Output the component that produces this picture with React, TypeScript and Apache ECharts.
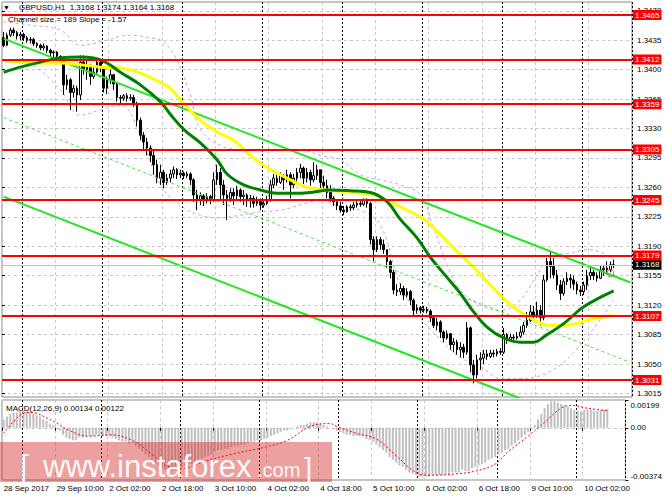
import React, { useEffect, useRef } from "react";
import * as echarts from "echarts";

const FONT = "Liberation Sans, Arial, sans-serif";

// ---- time axis ----
const tradingDays = ["28 Sep", "29 Sep", "2 Oct", "3 Oct", "4 Oct", "5 Oct", "6 Oct", "9 Oct", "10 Oct"];
const tickLabels = ["28 Sep 2017", "29 Sep 10:00", "2 Oct 02:00", "2 Oct 18:00", "3 Oct 10:00", "4 Oct 02:00", "4 Oct 18:00", "5 Oct 10:00", "6 Oct 02:00", "6 Oct 18:00", "9 Oct 10:00", "10 Oct 02:00"];
const firstHour = 18;
const slotCount = 189; // visible bar slots incl. right shift

// ---- price ticks ----
const priceTickMin = 1.3015;
const priceTickMax = 1.347;
const priceTickStep = 0.0035;
const priceMin = 1.30108;
const priceMax = 1.34805;

// ---- candles (H1) ----
const firstOpen = 1.3438;
const closes = [
  1.3429, 1.3441, 1.3447, 1.3444, 1.344, 1.3442, 1.3438, 1.3435, 1.3436, 1.3431,
  1.3429, 1.3426, 1.3428, 1.3423, 1.342, 1.3421, 1.3416, 1.3411, 1.3382, 1.3388,
  1.3373, 1.3378, 1.337, 1.3409, 1.34, 1.3404, 1.3392, 1.3397, 1.3409, 1.3402,
  1.3378, 1.3388, 1.3394, 1.3383, 1.3367, 1.3366, 1.3369, 1.3366, 1.3367, 1.3359,
  1.334, 1.3322, 1.3314, 1.3307, 1.3298, 1.3287, 1.3271, 1.3278, 1.3266, 1.3271,
  1.3276, 1.3281, 1.3275, 1.3277, 1.3274, 1.3276, 1.3269, 1.3251, 1.3245, 1.325,
  1.3244, 1.3249, 1.3245, 1.3269, 1.3278, 1.3263, 1.3251, 1.3247, 1.3254, 1.325,
  1.3257, 1.3249, 1.3251, 1.3245, 1.3247, 1.3241, 1.3244, 1.3239, 1.3241, 1.3245,
  1.3263, 1.3271, 1.3266, 1.3274, 1.3269, 1.3275, 1.3263, 1.3271, 1.3278, 1.3283,
  1.3271, 1.3278, 1.3269, 1.3274, 1.3281, 1.3266, 1.3262, 1.3254, 1.3247, 1.3243,
  1.3238, 1.3233, 1.3231, 1.3237, 1.3236, 1.3239, 1.3241, 1.324, 1.3245, 1.3241,
  1.3198, 1.3186, 1.3198, 1.3192, 1.3186, 1.3172, 1.3159, 1.3138, 1.3136, 1.314,
  1.3132, 1.3136, 1.3126, 1.3114, 1.3117, 1.3114, 1.3115, 1.3113, 1.3105, 1.3096,
  1.31, 1.3088, 1.3081, 1.3086, 1.3073, 1.3076, 1.3067, 1.307, 1.3064, 1.3093,
  1.3049, 1.3037, 1.3055, 1.3057, 1.3062, 1.3059, 1.3063, 1.3062, 1.3065, 1.3064,
  1.3085, 1.3079, 1.3082, 1.3081, 1.3083, 1.3088, 1.3096, 1.3102, 1.3112, 1.3107,
  1.3114, 1.3105, 1.315, 1.3172, 1.3166, 1.3156, 1.3144, 1.3134, 1.3148, 1.3152,
  1.315, 1.3145, 1.3138, 1.3136, 1.3144, 1.3155, 1.3159, 1.3155, 1.3152, 1.3162,
  1.3164, 1.3162, 1.3168, 1.3168,
];
const highs = [
  1.3445, 1.3444, 1.345, 1.345, 1.3446, 1.3445, 1.3444, 1.344, 1.3439, 1.3438,
  1.3433, 1.3431, 1.3431, 1.3429, 1.3425, 1.3423, 1.3422, 1.3417, 1.3414, 1.3394,
  1.339, 1.3382, 1.3381, 1.3417, 1.3417, 1.3411, 1.3407, 1.3404, 1.3414, 1.3411,
  1.3404, 1.3392, 1.34, 1.3395, 1.3385, 1.337, 1.3371, 1.3372, 1.3371, 1.337,
  1.3362, 1.3343, 1.3326, 1.3319, 1.331, 1.3305, 1.3293, 1.3287, 1.3281, 1.3276,
  1.3281, 1.3285, 1.3283, 1.3281, 1.3279, 1.3279, 1.3278, 1.3271, 1.3257, 1.3254,
  1.3252, 1.3253, 1.3251, 1.3278, 1.3287, 1.3283, 1.3269, 1.3257, 1.3259, 1.3259,
  1.3262, 1.3259, 1.3257, 1.3253, 1.3251, 1.325, 1.3249, 1.3247, 1.3246, 1.325,
  1.3269, 1.3276, 1.3275, 1.3278, 1.3276, 1.3281, 1.3278, 1.3276, 1.3283, 1.3288,
  1.3285, 1.3283, 1.3281, 1.329, 1.3287, 1.3281, 1.3274, 1.3269, 1.3263, 1.325,
  1.3245, 1.3243, 1.3238, 1.3239, 1.324, 1.3243, 1.3245, 1.3245, 1.3247, 1.3247,
  1.3243, 1.3202, 1.3202, 1.3201, 1.3198, 1.3186, 1.3174, 1.3162, 1.3145, 1.3146,
  1.3143, 1.314, 1.3138, 1.3128, 1.3121, 1.3119, 1.3119, 1.3118, 1.3115, 1.3108,
  1.3105, 1.3102, 1.309, 1.309, 1.3087, 1.3081, 1.3079, 1.3076, 1.3074, 1.31,
  1.3095, 1.3055, 1.3061, 1.3064, 1.3067, 1.3067, 1.3067, 1.3067, 1.3068, 1.3069,
  1.3093, 1.3087, 1.3086, 1.3085, 1.3088, 1.3095, 1.31, 1.3112, 1.312, 1.3119,
  1.3124, 1.312, 1.3156, 1.3176, 1.3183, 1.3176, 1.3162, 1.315, 1.3152, 1.3159,
  1.3157, 1.3155, 1.3148, 1.3143, 1.3148, 1.3162, 1.3167, 1.3162, 1.3159, 1.3167,
  1.3168, 1.3172, 1.3172, 1.3174,
];
const lows = [
  1.3427, 1.3428, 1.3439, 1.344, 1.3436, 1.3435, 1.3434, 1.3432, 1.3431, 1.3428,
  1.3426, 1.3423, 1.3423, 1.342, 1.3416, 1.3415, 1.3411, 1.3408, 1.337, 1.3376,
  1.3352, 1.3367, 1.335, 1.3364, 1.3394, 1.3388, 1.3382, 1.3389, 1.3395, 1.3397,
  1.3373, 1.3371, 1.3383, 1.3376, 1.3362, 1.3359, 1.3363, 1.3362, 1.3363, 1.3356,
  1.3333, 1.3316, 1.3305, 1.3298, 1.329, 1.3275, 1.3265, 1.3263, 1.3259, 1.3263,
  1.3266, 1.3271, 1.327, 1.3271, 1.327, 1.3271, 1.3263, 1.3243, 1.3233, 1.3239,
  1.3238, 1.3241, 1.324, 1.3243, 1.3263, 1.3245, 1.3239, 1.3221, 1.3243, 1.3239,
  1.3245, 1.3243, 1.3239, 1.3237, 1.3236, 1.3236, 1.3238, 1.3233, 1.3236, 1.3239,
  1.3243, 1.3259, 1.3262, 1.3264, 1.3257, 1.3266, 1.3247, 1.3259, 1.3266, 1.3271,
  1.3264, 1.3266, 1.3262, 1.3266, 1.3269, 1.3259, 1.3257, 1.3247, 1.3243, 1.3238,
  1.3233, 1.323, 1.3227, 1.323, 1.3232, 1.3233, 1.3236, 1.3237, 1.3238, 1.3236,
  1.3192, 1.3172, 1.3183, 1.3186, 1.3181, 1.3164, 1.3152, 1.3133, 1.3131, 1.3132,
  1.3126, 1.3129, 1.312, 1.3108, 1.311, 1.311, 1.3111, 1.311, 1.31, 1.3093,
  1.309, 1.3081, 1.3076, 1.3079, 1.3067, 1.3064, 1.3061, 1.3058, 1.3057, 1.3061,
  1.304, 1.3027, 1.3033, 1.3043, 1.305, 1.3055, 1.3057, 1.3058, 1.3059, 1.3061,
  1.3062, 1.3074, 1.3076, 1.3077, 1.3079, 1.3081, 1.3085, 1.3093, 1.31, 1.3102,
  1.3105, 1.3096, 1.3102, 1.3148, 1.3152, 1.3152, 1.3138, 1.3126, 1.3131, 1.3144,
  1.314, 1.3138, 1.3133, 1.3131, 1.3132, 1.3138, 1.315, 1.315, 1.3148, 1.3151,
  1.3155, 1.3157, 1.3159, 1.3164,
];

// ---- indicators: [bar index, value] ----
const greenMA = [[0, 1.3397], [5, 1.3403], [11, 1.3409], [17, 1.3414], [23, 1.3415], [27, 1.3414], [31, 1.3408], [35, 1.3397], [41, 1.3382], [47, 1.3362], [50, 1.3347], [54, 1.3329], [59, 1.3313], [64, 1.3293], [67, 1.3276], [72, 1.3263], [77, 1.3257], [82, 1.3253], [87, 1.3253], [92, 1.3254], [98, 1.3257], [104, 1.3256], [110, 1.3254], [115, 1.3243], [119, 1.3222], [124, 1.32], [128, 1.3177], [133, 1.3153], [137, 1.3134], [141, 1.3112], [145, 1.3094], [150, 1.3081], [155, 1.3076], [159, 1.3076], [163, 1.3085], [168, 1.3098], [174, 1.3118], [183, 1.3137]];
const yellowMA = [[0, 1.3411], [5, 1.3409], [11, 1.3408], [17, 1.3408], [23, 1.3406], [29, 1.3403], [35, 1.3402], [41, 1.3396], [47, 1.3385], [50, 1.3378], [53, 1.3364], [59, 1.334], [64, 1.3326], [69, 1.3316], [74, 1.3298], [79, 1.3284], [85, 1.3271], [91, 1.326], [97, 1.3257], [105, 1.3254], [110, 1.3252], [115, 1.3245], [121, 1.3233], [125, 1.3225], [129, 1.3212], [135, 1.3188], [140, 1.3169], [146, 1.3144], [152, 1.3121], [158, 1.3105], [164, 1.3096], [169, 1.3096], [175, 1.3102], [183, 1.3108]];
const bandUpper = [[0, 1.3457], [8, 1.3453], [17, 1.3447], [23, 1.3429], [29, 1.3433], [38, 1.3441], [44, 1.3438], [48, 1.3433], [52, 1.3411], [56, 1.337], [59, 1.3329], [65, 1.331], [71, 1.3305], [77, 1.3305], [83, 1.3305], [89, 1.3305], [95, 1.3298], [101, 1.3293], [107, 1.3275], [113, 1.3269], [119, 1.3263], [125, 1.3251], [129, 1.3212], [133, 1.3168], [137, 1.3138], [143, 1.312], [149, 1.3114], [155, 1.3126], [160, 1.3156], [164, 1.3177], [170, 1.3182], [176, 1.3186], [183, 1.3174]];
const bandLower = [[0, 1.3411], [8, 1.3406], [17, 1.3376], [23, 1.3346], [29, 1.3352], [35, 1.3358], [41, 1.3322], [47, 1.3263], [53, 1.3239], [59, 1.3227], [65, 1.3224], [71, 1.3227], [77, 1.3231], [83, 1.3233], [89, 1.3239], [95, 1.3245], [101, 1.3237], [107, 1.3233], [113, 1.3215], [119, 1.3144], [125, 1.3105], [131, 1.3079], [137, 1.3058], [143, 1.3047], [149, 1.3033], [155, 1.3033], [160, 1.3035], [167, 1.3049], [175, 1.3082], [183, 1.3126]];
const channelUpper = [[0, 1.3437], [188, 1.3147]];
const channelMid = [[0, 1.3343], [188, 1.3052]];
const channelLower = [[0, 1.3249], [188, 1.2958]];
const markPoint = [[182, 1.3158]];

const redLevels = [1.3465, 1.3412, 1.3359, 1.3305, 1.3245, 1.3179, 1.3107, 1.3031];
const lastPrice = 1.3168;

// ---- MACD(12,26,9) ----
const macdMin = -0.00374;
const macdMax = 0.00199;
const macdHist = [
  0.0006, 0.0008, 0.001, 0.0011, 0.0011, 0.0012, 0.0012, 0.0012, 0.0011, 0.001,
  0.0009, 0.0008, 0.0006, 0.0005, 0.0003, 0.0002, 0.0, -0.0002, -0.0005, -0.0007,
  -0.0008, -0.0009, -0.0009, -0.0007, -0.0007, -0.0006, -0.0006, -0.0006, -0.0005, -0.0005,
  -0.0006, -0.0006, -0.0006, -0.0007, -0.0008, -0.0009, -0.001, -0.001, -0.0011, -0.0011,
  -0.0013, -0.0015, -0.0017, -0.0019, -0.0021, -0.0023, -0.0026, -0.0027, -0.0029, -0.003,
  -0.003, -0.0031, -0.003, -0.0029, -0.0028, -0.0027, -0.0026, -0.0026, -0.0025, -0.0024,
  -0.0022, -0.0021, -0.002, -0.0019, -0.0017, -0.0016, -0.0016, -0.0015, -0.0015, -0.0014,
  -0.0013, -0.0013, -0.0012, -0.0012, -0.0011, -0.001, -0.001, -0.0009, -0.0009, -0.0008,
  -0.0007, -0.0006, -0.0005, -0.0004, -0.0003, -0.0002, -0.0002, -0.0001, 0.0, 0.0001,
  0.0002, 0.0002, 0.0003, 0.0004, 0.0004, 0.0004, 0.0003, 0.0002, 0.0001, 0.0,
  -0.0001, -0.0002, -0.0003, -0.0004, -0.0005, -0.0005, -0.0006, -0.0006, -0.0006, -0.0006,
  -0.0008, -0.0009, -0.001, -0.0012, -0.0014, -0.0016, -0.0018, -0.0021, -0.0023, -0.0025,
  -0.0027, -0.0028, -0.003, -0.0032, -0.0033, -0.0034, -0.0035, -0.0035, -0.0035, -0.0035,
  -0.0034, -0.0034, -0.0034, -0.0034, -0.0033, -0.0033, -0.0032, -0.0032, -0.0032, -0.003,
  -0.0031, -0.0031, -0.0029, -0.0028, -0.0027, -0.0026, -0.0025, -0.0023, -0.0022, -0.0021,
  -0.0019, -0.0018, -0.0016, -0.0015, -0.0013, -0.0011, -0.0009, -0.0007, -0.0005, -0.0003,
  -0.0001, 0.0002, 0.0006, 0.001, 0.0014, 0.0017, 0.0019, 0.0019, 0.0018, 0.0017,
  0.0016, 0.0015, 0.0014, 0.0013, 0.0012, 0.0012, 0.0013, 0.0013, 0.0013, 0.0012,
  0.0012, 0.0013, 0.0013, 0.00134,
];
const macdSignal = [[0, -0.0004], [5, 0.0009], [8, 0.0011], [14, 0.0006], [20, -0.0002], [26, -0.0006], [32, -0.0005], [39, -0.0009], [45, -0.0019], [50, -0.0028], [54, -0.0029], [61, -0.0024], [69, -0.0019], [79, -0.0014], [86, -0.0009], [93, 0.0001], [99, 0.0003], [101, 0.0001], [107, -0.0004], [113, -0.0008], [119, -0.002], [125, -0.0032], [129, -0.0034], [137, -0.0033], [143, -0.0031], [149, -0.0026], [153, -0.0017], [159, -0.0006], [164, 0.0004], [169, 0.0014], [172, 0.0016], [177, 0.0014], [183, 0.00122]];

// ---- build categories (hour slots) ----
const barTimes: string[] = [];
tradingDays.forEach((d, di) => {
  for (let h = di === 0 ? firstHour : 0; h < 24; h++) {
    barTimes.push(`${d} ${String(h).padStart(2, "0")}:00`);
  }
});
const categories = barTimes.slice(0, slotCount);
const opens = [firstOpen, ...closes.slice(0, -1)];
const candleData = closes.map((c, i) => [opens[i], c, lows[i], highs[i]]);

const gridDash = { color: "#c8c8c8", type: [3, 3] as number[], width: 1 };
const sepLine = { color: "#000", type: [2, 2] as number[], width: 1 };
const isSeparator = (i: number) => i % 24 === 24 - firstHour;

function buildOption(): any {
  const hidden = { axisLine: { show: false }, axisTick: { show: false }, axisLabel: { show: false } };
  return {
    animation: false,
    backgroundColor: "#ffffff",
    textStyle: { fontFamily: FONT, fontSize: 8 },
    grid: [
      { left: 2, right: 33, top: 2, height: 395, show: true, borderColor: "#8a8a8a", borderWidth: 1, backgroundColor: "transparent" },
      { left: 2, right: 33, top: 10.8, height: 382.65, show: false },
      { left: 2, right: 33, top: 400, height: 80, show: true, borderColor: "#8a8a8a", borderWidth: 1, backgroundColor: "transparent" },
    ],
    xAxis: [
      { type: "category", gridIndex: 0, data: categories, ...hidden, splitLine: { show: true, interval: 15, lineStyle: gridDash } },
      { type: "category", gridIndex: 0, data: categories, ...hidden, splitLine: { show: true, interval: (i: number) => isSeparator(i), lineStyle: sepLine } },
      { type: "value", gridIndex: 1, min: 0, max: 1, show: false },
      {
        type: "category", gridIndex: 2, data: categories, position: "bottom",
        axisLine: { show: false },
        axisTick: { show: true, interval: 15, length: 3, lineStyle: { color: "#000" } },
        axisLabel: { show: true, interval: 15, align: "left", margin: 4, fontSize: 8, color: "#000", fontFamily: FONT, formatter: (_v: string, i: number) => tickLabels[Math.round(i / 16)] ?? "" },
        splitLine: { show: true, interval: 15, lineStyle: gridDash },
      },
      { type: "category", gridIndex: 2, data: categories, position: "top", ...hidden, splitLine: { show: true, interval: (i: number) => isSeparator(i), lineStyle: sepLine } },
    ],
    yAxis: [
      { type: "value", gridIndex: 0, min: priceMin, max: priceMax, show: false, splitLine: { show: false } },
      {
        type: "value", gridIndex: 1, position: "right", min: priceTickMin, max: priceTickMax, interval: priceTickStep,
        axisLine: { show: false },
        axisTick: { show: true, length: 3, lineStyle: { color: "#000" } },
        axisLabel: { margin: 5, fontSize: 8, color: "#000", fontFamily: FONT, formatter: (v: number) => v.toFixed(4) },
        splitLine: { show: true, lineStyle: gridDash },
      },
      {
        type: "value", gridIndex: 2, position: "right", min: macdMin, max: macdMax, interval: -macdMin,
        axisLine: { show: false },
        axisTick: { show: true, length: 3, lineStyle: { color: "#000" } },
        axisLabel: {
          margin: 5, fontSize: 8, color: "#000", fontFamily: FONT,
          formatter: (v: number) => (v > 0 ? `{t|${v.toFixed(5)}}` : v < 0 ? `{b|${v.toFixed(5)}}` : "0.00"),
          rich: { t: { padding: [10, 0, 0, 0], fontSize: 8, fontFamily: FONT }, b: { padding: [0, 0, 8, 0], fontSize: 8, fontFamily: FONT } },
        },
        splitLine: { show: true, lineStyle: gridDash },
      },
    ],
    series: [
      { type: "line", xAxisIndex: 0, yAxisIndex: 0, data: bandUpper, smooth: 0.4, showSymbol: false, silent: true, z: 1, lineStyle: { color: "#c99ef0", width: 1, type: [3, 3] } },
      { type: "line", xAxisIndex: 0, yAxisIndex: 0, data: bandLower, smooth: 0.4, showSymbol: false, silent: true, z: 1, lineStyle: { color: "#c99ef0", width: 1, type: [3, 3] } },
      {
        type: "candlestick", xAxisIndex: 0, yAxisIndex: 0, data: candleData, barWidth: 2, z: 2, silent: true,
        itemStyle: { color: "#ffffff", color0: "#000000", borderColor: "#000000", borderColor0: "#000000", borderColorDoji: "#000000", borderWidth: 1 },
        markLine: {
          symbol: ["none", "none"], silent: true, animation: false, precision: 4,
          lineStyle: { color: "#ff0000", width: 2, type: "solid" },
          label: { show: true, position: "end", distance: 1, formatter: (p: any) => Number(p.value).toFixed(4), color: "#ffffff", backgroundColor: "#ff0000", fontSize: 8, fontFamily: FONT, padding: [1, 2, 1, 2] },
          data: [
            { yAxis: lastPrice, lineStyle: { color: "#c0c0c0", width: 1, type: "solid" }, label: { backgroundColor: "#000000", color: "#ffffff" } },
            ...redLevels.map((v) => ({ yAxis: v })),
          ],
        },
      },
      { type: "line", xAxisIndex: 0, yAxisIndex: 0, data: channelMid, showSymbol: false, silent: true, z: 3, lineStyle: { color: "#33ee33", width: 1, type: [3, 3] } },
      { type: "line", xAxisIndex: 0, yAxisIndex: 0, data: channelUpper, showSymbol: false, silent: true, z: 3, lineStyle: { color: "#22e622", width: 2 } },
      { type: "line", xAxisIndex: 0, yAxisIndex: 0, data: channelLower, showSymbol: false, silent: true, z: 3, lineStyle: { color: "#22e622", width: 2 } },
      { type: "line", xAxisIndex: 0, yAxisIndex: 0, data: yellowMA, smooth: 0.4, showSymbol: false, silent: true, z: 3, lineStyle: { color: "#ffff00", width: 3 } },
      { type: "line", xAxisIndex: 0, yAxisIndex: 0, data: greenMA, smooth: 0.4, showSymbol: false, silent: true, z: 4, lineStyle: { color: "#008000", width: 3 } },
      { type: "scatter", xAxisIndex: 0, yAxisIndex: 0, data: markPoint, symbol: "circle", symbolSize: 7, silent: true, z: 4, itemStyle: { color: "rgba(255,255,255,0)", borderColor: "#ff3030", borderWidth: 1 } },
      { type: "bar", xAxisIndex: 3, yAxisIndex: 2, data: macdHist, barWidth: 2, silent: true, itemStyle: { color: "#c0c0c0" } },
      { type: "line", xAxisIndex: 3, yAxisIndex: 2, data: macdSignal, smooth: 0.4, showSymbol: false, silent: true, z: 3, lineStyle: { color: "#ff0000", width: 1, type: [2, 2] } },
    ],
    graphic: [
      { type: "text", x: 3, y: 7, z: 10, style: { text: "▼", fill: "#000", fontSize: 7, fontFamily: FONT, verticalAlign: "middle" } },
      { type: "text", x: 19, y: 7, z: 10, style: { text: "GBPUSD,H1  1.3168 1.3174 1.3164 1.3168", fill: "#000", fontSize: 8, fontFamily: FONT, verticalAlign: "middle" } },
      { type: "text", x: 8, y: 19, z: 10, style: { text: "Channel size = 189 Slope = -1.57", fill: "#000", fontSize: 8, fontFamily: FONT, verticalAlign: "middle" } },
      { type: "text", x: 6, y: 408, z: 10, style: { text: "MACD(12,26,9) 0.00134 0.00122", fill: "#000", fontSize: 8, fontFamily: FONT, verticalAlign: "middle" } },
      { type: "rect", z: 20, shape: { x: 0, y: 442, width: 332, height: 40 }, style: { fill: "rgba(215,45,45,0.45)" } },
      { type: "text", x: 20, y: 466, z: 21, style: { text: "[", fill: "rgba(255,255,255,0.92)", fontSize: 32, fontFamily: FONT, verticalAlign: "middle" } },
      { type: "text", x: 43, y: 466, z: 21, style: { text: "www.instaforex", fill: "rgba(255,255,255,0.95)", fontSize: 31, fontFamily: FONT, verticalAlign: "middle" } },
      { type: "text", x: 257, y: 470, z: 21, style: { text: ".com", fill: "rgba(255,255,255,0.95)", fontSize: 20, fontFamily: FONT, verticalAlign: "middle" } },
      { type: "text", x: 304, y: 468, z: 21, style: { text: "]", fill: "rgba(255,255,255,0.92)", fontSize: 30, fontFamily: FONT, verticalAlign: "middle" } },
    ],
  };
}

export default function App() {
  const ref = useRef<HTMLDivElement>(null);
  useEffect(() => {
    if (!ref.current) return;
    const chart = echarts.init(ref.current, undefined, { renderer: "svg" });
    chart.setOption(buildOption());
    return () => chart.dispose();
  }, []);
  return <div ref={ref} style={{ position: "absolute", left: 0, top: 0, width: 665, height: 499, background: "#fff" }} />;
}
